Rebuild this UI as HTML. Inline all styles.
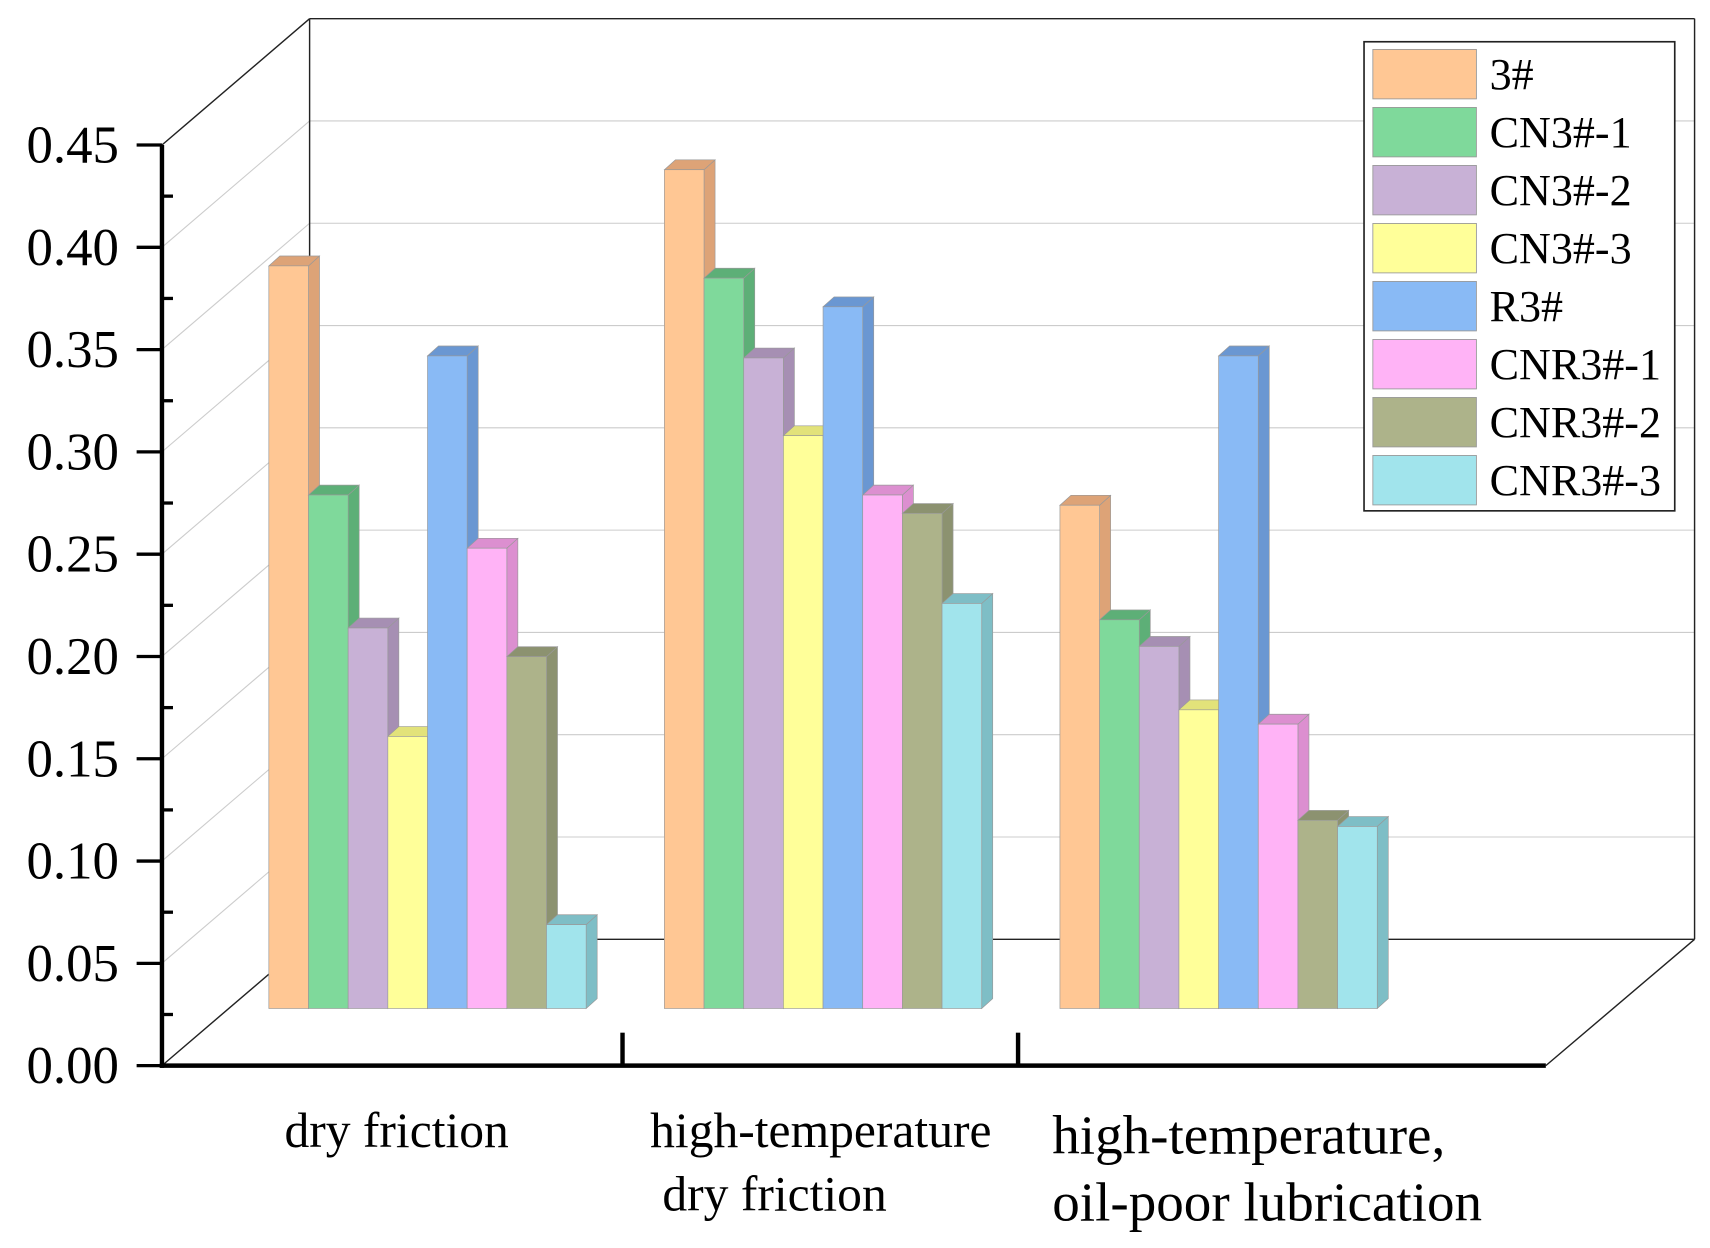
<!DOCTYPE html>
<html><head><meta charset="utf-8"><style>
html,body{margin:0;padding:0;background:#fff;}
svg{display:block;font-family:"Liberation Serif",serif;}
</style></head><body>
<svg id="chart" width="1710" height="1248" viewBox="0 0 1552 1136" preserveAspectRatio="none" xmlns="http://www.w3.org/2000/svg">
<g id="walls"></g>
<g id="bars"></g>
<g id="axes"></g>
<g id="legend"></g>
</svg>
<script>
const categories = [["dry friction"], ["high-temperature", "dry friction"], ["high-temperature,", "oil-poor lubrication"]];
const seriesNames = ["3#", "CN3#-1", "CN3#-2", "CN3#-3", "R3#", "CNR3#-1", "CNR3#-2", "CNR3#-3"];
const dryFriction = [0.363, 0.251, 0.186, 0.133, 0.319, 0.225, 0.172, 0.041];
const highTempDry = [0.410, 0.357, 0.318, 0.280, 0.343, 0.251, 0.242, 0.198];
const highTempOilPoor = [0.246, 0.190, 0.177, 0.146, 0.319, 0.139, 0.092, 0.089];
const tickLabels = ["0.00", "0.05", "0.10", "0.15", "0.20", "0.25", "0.30", "0.35", "0.40", "0.45"];
const tickValues = [0, 0.05, 0.1, 0.15, 0.2, 0.25, 0.3, 0.35, 0.4, 0.45];

const groups = [dryFriction, highTempDry, highTempOilPoor];
const faceColors = ["#FFC794", "#7FD99B", "#C8B1D6", "#FFFF99", "#89BAF5", "#FFB3F6", "#ADB38A", "#A1E4EC"];
const sideColors = ["#DDA377", "#5DAF77", "#A68FB3", "#E2E27A", "#6A97D2", "#DC8FD0", "#8C9270", "#7EBEC6"];
const NS = "http://www.w3.org/2000/svg";
const X0 = 147, Y0 = 970, YTOP = 132, DX = 134, DY = -115, XEND = 1403;
const yFront = v => Y0 - (v / 0.45) * (Y0 - YTOP);
const BASE = 918;
const yBar = v => BASE - (v / 0.45) * (Y0 - YTOP);
const groupX = g => 244 + g * 359;
const barX = (g, i) => groupX(g) + i * 36;
const BW = 36, BDX = 10, BDY = -9;

function mk(parent, tag, attrs) {
  const e = document.createElementNS(NS, tag);
  for (const k in attrs) e.setAttribute(k, attrs[k]);
  parent.appendChild(e);
  return e;
}
const walls = document.getElementById("walls");
tickValues.forEach((v, k) => {
  const yf = yFront(v), yb = yf + DY;
  const l = mk(walls, "line", {x1: X0 + DX, y1: yb, x2: 1538, y2: yb, stroke: k === 0 || k === 9 ? "#222" : "#ccc", "stroke-width": k === 0 || k === 9 ? 1.3 : 1});
  
  
  const d = mk(walls, "line", {x1: X0, y1: yf, x2: X0 + DX, y2: yb, stroke: k === 0 || k === 9 ? "#222" : "#ccc", "stroke-width": k === 0 || k === 9 ? 1.3 : 1});
  
  
});
const wl = mk(walls, "line", {x1: X0 + DX, y1: YTOP + DY, x2: X0 + DX, y2: Y0 + DY, stroke: "#222", "stroke-width": 1.3});


const wr = mk(walls, "line", {x1: 1538, y1: YTOP + DY, x2: 1538, y2: Y0 + DY, stroke: "#222", "stroke-width": 1.3});


const fr = mk(walls, "line", {x1: XEND, y1: Y0, x2: 1538, y2: Y0 + DY, stroke: "#222", "stroke-width": 1.3});



const bars = document.getElementById("bars");
groups.forEach((vals, g) => {
  vals.forEach((v, i) => {
    const x = barX(g, i), yt = yBar(v);
    const bg = mk(bars, "g", {});
    
    
    mk(bg, "polygon", {points: `${x+BW},${yt} ${x+BW+BDX},${yt+BDY} ${x+BW+BDX},${BASE+BDY} ${x+BW},${BASE}`, fill: sideColors[i], stroke: "#999", "stroke-width": 0.6});
    mk(bg, "polygon", {points: `${x},${yt} ${x+BDX},${yt+BDY} ${x+BW+BDX},${yt+BDY} ${x+BW},${yt}`, fill: sideColors[i], stroke: "#999", "stroke-width": 0.6});
    mk(bg, "rect", {x: x, y: yt, width: BW, height: BASE - yt, fill: faceColors[i], stroke: "#999", "stroke-width": 0.6});
  });
});

const axes = document.getElementById("axes");
const ya = mk(axes, "line", {x1: X0, y1: YTOP, x2: X0, y2: Y0 + 2, stroke: "#000", "stroke-width": 4});


const xa = mk(axes, "line", {x1: X0 - 2, y1: Y0, x2: XEND, y2: Y0, stroke: "#000", "stroke-width": 4});


tickValues.forEach((v, k) => {
  const y = yFront(v);
  const t = mk(axes, "line", {x1: 124, y1: y, x2: X0, y2: y, stroke: "#000", "stroke-width": 3});
  
  
  const lb = mk(axes, "text", {x: 108, y: y + 16, "text-anchor": "end", "font-size": 48, fill: "#000"});
  lb.textContent = tickLabels[k];
  
  
  if (k < tickValues.length - 1) {
    const ym = yFront(v + 0.025);
    const m = mk(axes, "line", {x1: X0, y1: ym, x2: 157, y2: ym, stroke: "#000", "stroke-width": 3});
    
    
  }
});
[565, 924].forEach(x => {
  const s = mk(axes, "line", {x1: x, y1: 940, x2: x, y2: Y0, stroke: "#000", "stroke-width": 4});
  
  
});
const catPos = [[{x: 360, y: 1044, a: "middle", s: 45}], [{x: 745, y: 1044, a: "middle", s: 45}, {x: 703, y: 1102, a: "middle", s: 45}], [{x: 955, y: 1050, a: "start", s: 50}, {x: 955, y: 1111, a: "start", s: 50}]];
categories.forEach((lines, g) => {
  lines.forEach((ln, j) => {
    const p = catPos[g][j];
    const t = mk(axes, "text", {x: p.x, y: p.y, "text-anchor": p.a, "font-size": p.s, fill: "#000"});
    t.textContent = ln;
    
    
  });
});

const legend = document.getElementById("legend");
const lbox = mk(legend, "rect", {x: 1238, y: 38, width: 282, height: 427, fill: "#fff", stroke: "#222", "stroke-width": 1.5});


seriesNames.forEach((n, i) => {
  const y = 45 + i * 52.8;
  const ge = mk(legend, "g", {});
  
  
  mk(ge, "rect", {x: 1246, y: y, width: 94, height: 45, fill: faceColors[i], stroke: "#999", "stroke-width": 0.8});
  const t = mk(ge, "text", {x: 1352, y: y + 36, "font-size": 40, fill: "#000"});
  t.textContent = n;
});
</script>
</body></html>
